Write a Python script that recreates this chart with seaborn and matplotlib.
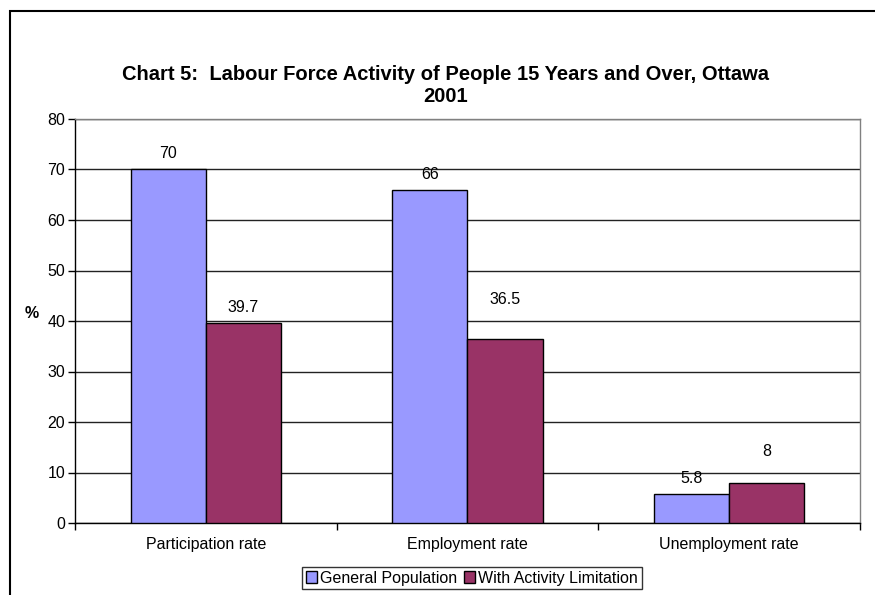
import matplotlib
matplotlib.use("Agg")
import matplotlib.pyplot as plt
import seaborn as sns
import pandas as pd
from matplotlib.patches import Rectangle

# data
categories = ["Participation rate", "Employment rate", "Unemployment rate"]
series = ["General Population", "With Activity Limitation"]
general_population = [70, 66, 5.8]
activity_limitation = [39.7, 36.5, 8]
y_ticks = [0, 10, 20, 30, 40, 50, 60, 70, 80]

colors = ["#9999FF", "#993366"]
# label offsets above bar top (pixels), the original has some labels pushed up
label_offsets = [[16, 15, 15], [15, 39, 31]]

df = pd.DataFrame({
    "category": categories * 2,
    "series": [series[0]] * 3 + [series[1]] * 3,
    "value": general_population + activity_limitation,
})

sns.set_style("white")
plt.rcParams["font.family"] = ["Liberation Sans", "DejaVu Sans"]
plt.rcParams["text.color"] = "black"
plt.rcParams["axes.labelcolor"] = "black"
plt.rcParams["xtick.color"] = "black"
plt.rcParams["ytick.color"] = "black"

fs = 11.5

fig = plt.figure(figsize=(8.75, 5.95), dpi=100)
ax = fig.add_axes([75 / 875, 1 - 523 / 595, 785 / 875, 404 / 595])

sns.barplot(data=df, x="category", y="value", hue="series", palette=colors,
            width=0.575, saturation=1, edgecolor="black", linewidth=1,
            ax=ax, zorder=3)

ax.set_ylim(0, 80)
ax.set_xlim(-0.5, 2.5)
ax.set_yticks(y_ticks)
ax.grid(axis="y", color="#222222", linewidth=1, zorder=0)
ax.set_axisbelow(True)

for spine in ["left", "bottom"]:
    ax.spines[spine].set_color("black")
    ax.spines[spine].set_linewidth(1)
for spine in ["top", "right"]:
    ax.spines[spine].set_color("#808080")
    ax.spines[spine].set_linewidth(1)

ax.tick_params(axis="y", which="major", direction="out", length=5, width=1,
               color="black", labelsize=fs, pad=2, left=True)
ax.tick_params(axis="x", which="major", length=0, labelsize=fs, pad=10)
ax.set_xticks([-0.5, 0.5, 1.5, 2.5], minor=True)
ax.tick_params(axis="x", which="minor", direction="out", length=5, width=1,
               color="black", bottom=True)

ax.set_xlabel("")
ax.set_ylabel("%", rotation=0, fontweight="bold", fontsize=fs)
ax.yaxis.set_label_coords(-0.055, 0.5)

# data labels
for i, container in enumerate(ax.containers):
    for j, bar in enumerate(container):
        h = bar.get_height()
        ax.annotate(f"{h:g}", (bar.get_x() + bar.get_width() / 2, h),
                    xytext=(0, label_offsets[i][j] * 0.72), textcoords="offset points",
                    ha="center", va="center", fontsize=fs, zorder=5)

# legend at the bottom
handles, labels = ax.get_legend_handles_labels()
ax.legend(handles, labels, loc="center", bbox_to_anchor=(472 / 875, 1 - 578 / 595),
          bbox_transform=fig.transFigure, ncol=2, frameon=True, fancybox=False,
          edgecolor="black", fontsize=fs, handlelength=0.7, handleheight=0.7,
          handletextpad=0.2, columnspacing=0.4, borderpad=0.25,
          borderaxespad=0)
ax.get_legend().get_frame().set_linewidth(1)

fig.text(446 / 875, 1 - 74 / 595,
         "Chart 5:  Labour Force Activity of People 15 Years and Over, Ottawa",
         ha="center", va="center", fontsize=14.5, fontweight="bold")
fig.text(446 / 875, 1 - 96 / 595, "2001",
         ha="center", va="center", fontsize=14.5, fontweight="bold")

# outer chart border (cut off on right and bottom like the original)
fig.patches.append(Rectangle((10 / 875, -0.05), 1.0, 1.05 - 11 / 595,
                             transform=fig.transFigure, fill=False,
                             edgecolor="black", linewidth=1.5))

fig.savefig("out.png", dpi=100)
